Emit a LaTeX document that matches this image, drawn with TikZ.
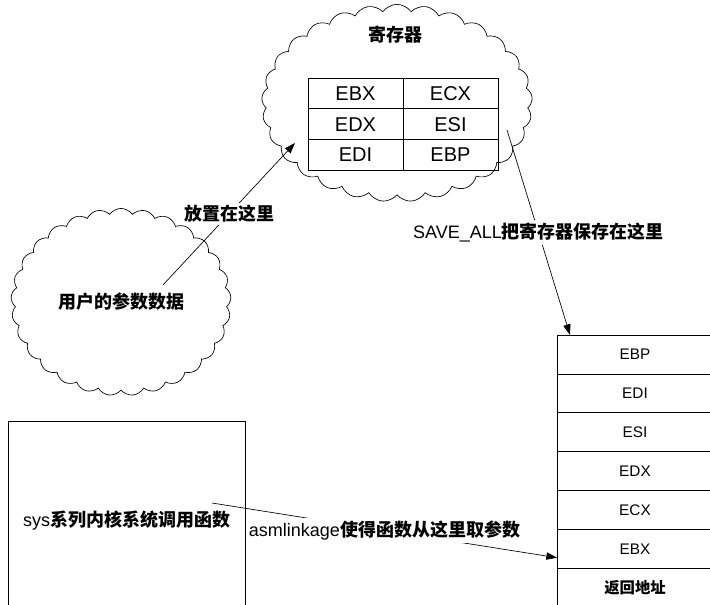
\documentclass[tikz,border=0pt]{standalone}
\usepackage{fontspec}
\setmainfont{Liberation Sans}
\newfontfamily\cjk{Noto Sans CJK SC}
\newcommand{\zh}[1]{{\cjk\bfseries #1}}
\usetikzlibrary{arrows.meta,positioning,shapes.symbols}

\begin{document}
\begin{tikzpicture}[
    x=0.75pt, y=-0.75pt,
    line width=0.5pt,
    font=\fontsize{13.5}{15}\selectfont,
    puff/.style={cloud, draw, cloud puffs=29, cloud puff arc=110, inner sep=0pt},
    cntext/.style={inner sep=2pt},
    regcell/.style={draw, minimum width=71.25pt, minimum height=23pt, inner sep=0pt, outer sep=0pt, font=\fontsize{15}{17}\selectfont},
    stackcell/.style={draw, minimum width=117pt, minimum height=29.15pt, inner sep=0pt, outer sep=0pt, font=\fontsize{11.5}{13}\selectfont},
    arrow/.style={-{Triangle[length=8pt,width=5.5pt]}}
  ]
    \useasboundingbox (0,0) rectangle (710,605);
    \clip (0,0) rectangle (710,605);
    % clouds
    \node[puff, minimum width=203pt, minimum height=148pt] (regs) at (397,103) {};
    \node[cntext] (regtitle) at (395,35) {\zh{寄存器}};
    \node[puff, minimum width=165pt, minimum height=105pt] (user) at (121,302) {\zh{用户的参数数据}};
    % register table
    \node[regcell] (ebx) at (355.5,93.5) {EBX};
    \node[regcell, right=0pt of ebx] (ecx) {ECX};
    \node[regcell, below=0pt of ebx] (edx) {EDX};
    \node[regcell, right=0pt of edx] (esi) {ESI};
    \node[regcell, below=0pt of edx] (edi) {EDI};
    \node[regcell, right=0pt of edi] (ebp) {EBP};
    % kernel stack
    \foreach \name/\txt [count=\i] in {sebp/EBP, sedi/EDI, sesi/ESI, sedx/EDX, secx/ECX, sebx/EBX, sret/\zh{返回地址}}
      \node[stackcell] (\name) at (635, 335+\i*38.86-19.43) {\txt};
    % system call function
    \node[draw, minimum width=177.75pt, minimum height=150pt, inner sep=0pt] (sys) at (126.5,521) {sys\zh{系列内核系统调用函数}};
    % arrows
    \coordinate (argsrc) at (163,285);
    \coordinate (argdst) at (295,143);
    \coordinate (savesrc) at (507,130);
    \coordinate (savedst) at (570,335);
    \coordinate (asmsrc) at (212,503);
    \draw[arrow] (argsrc) -- node[cntext, fill=white] (argtext) {\zh{放置在这里}} (argdst);
    \draw[arrow] (savesrc) -- node[cntext, fill=white] (savetext) {SAVE\_ALL\zh{把寄存器保存在这里}} (savedst);
    \draw[arrow] (asmsrc) -- node[cntext, fill=white] (asmtext) {asmlinkage\zh{使得函数从这里取参数}} ([yshift=-6.75pt]sebx.west);
  \end{tikzpicture}
\end{document}
